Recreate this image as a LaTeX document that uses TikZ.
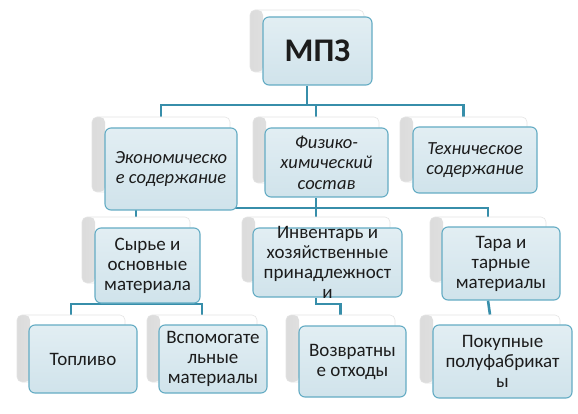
\documentclass[tikz,border=0pt]{standalone}
\usepackage{fontspec}
\setmainfont{Carlito}
\usetikzlibrary{fit,backgrounds}
\definecolor{conncol}{RGB}{55,142,170}
\definecolor{boxline}{RGB}{100,172,196}
\definecolor{boxfill}{RGB}{208,227,235}
\definecolor{boxtop}{RGB}{226,238,243}
\definecolor{txtcol}{RGB}{28,28,28}
\tikzset{
  backcard/.style={rounded corners=5pt, fill=white, draw=gray!20, line width=0.6pt, inner sep=0pt,
    path picture={\shade[left color=gray!28, right color=white]
      (path picture bounding box.south west) rectangle ([xshift=13pt]path picture bounding box.north west);
      \shade[bottom color=gray!18, top color=white]
      (path picture bounding box.south west) rectangle ([yshift=-8pt]path picture bounding box.south east);}},
  frontbox/.style={rounded corners=6pt, draw=boxline, line width=1.1pt, top color=boxtop, bottom color=boxfill, inner sep=0pt},
  conn/.style={draw=conncol, line width=2.6pt},
  txt/.style={align=center, text=txtcol, inner sep=0pt, font=\fontsize{19}{20}\selectfont},
  txtit/.style={align=center, text=txtcol, inner sep=0pt, font=\fontsize{18.5}{20.5}\selectfont\itshape},
  txtbig/.style={align=center, text=txtcol, inner sep=0pt, font=\fontsize{33}{36}\selectfont\bfseries},
}
\newcommand\card[7]{%
  \node[backcard, fit={(#2)(#3)}] (#1B) {};
  \node[frontbox, fit={(#4)(#5)}] (#1) {};
  \node[#6] (#1T) at (#1.center) {#7};
}
\begin{document}
\begin{tikzpicture}[x=1pt,y=-1pt]
\useasboundingbox (0,0) rectangle (578,414);
\coordinate (bus1) at (0,105);
\coordinate (bus2) at (0,208);
\coordinate (bus3) at (0,304);
% ---------- cards ----------
\card{mpz}{250,10}{364,72}{263,17}{372,85}{txtbig}{МПЗ}
\card{e}{92,117}{230,192}{105,128}{237,210}{txtit}{Экономическо\\е содержание}
\card{f}{253,117}{379,183}{265,128}{388,197}{txtit}{Физико-\\химический\\состав}
\card{t}{400,117}{527,182}{413,127}{537,193}{txtit}{Техническое\\содержание}
\card{s}{82,217}{190,283}{95,228}{200,303}{txt}{Сырье и\\основные\\материала}
\card{i}{242,217}{390,282}{253,228}{402,297}{txt}{Инвентарь и\\хозяйственные\\принадлежност\\и}
\card{r}{430,217}{546,282}{442,227}{560,300}{txt}{Тара и\\тарные\\материалы}
\card{top}{17,315}{125,382}{29,325}{137,393}{txt}{Топливо}
\card{v}{147,315}{257,382}{159,325}{267,393}{txt}{Вспомогате\\льные\\материалы}
\card{w}{286,315}{395,382}{299,326}{406,397}{txt}{Возвратны\\е отходы}
\card{p}{420,315}{560,383}{433,325}{572,398}{txt}{Покупные\\полуфабрикат\\ы}
% ---------- connectors ----------
\begin{scope}[on background layer]
\fill[white] (0,0) rectangle (578,414);
\draw[conn] (mpzB.south |- mpz.south) -- (mpzB.south |- bus1);
\draw[conn] (eB.north) |- (tB.north |- bus1) -- (tB.north);
\draw[conn] (fB.north) -- (fB.north |- bus1);
\draw[conn] (fB.south |- f.south) -- (fB.south |- bus2);
\draw[conn] (sB.north) |- (rB.north |- bus2) -- (rB.north);
\draw[conn] (iB.north) -- (iB.north |- bus2);
\draw[conn] (sB.south |- s.south) -- (sB.south |- bus3);
\draw[conn] (topB.north) |- (vB.north |- bus3) -- (vB.north);
\draw[conn] (iB.south |- i.south) -- (iB.south |- bus3) -| (wB.north);
\draw[conn] (rB.south |- r.south) -- (pB.north);
\end{scope}
\end{tikzpicture}
\end{document}
